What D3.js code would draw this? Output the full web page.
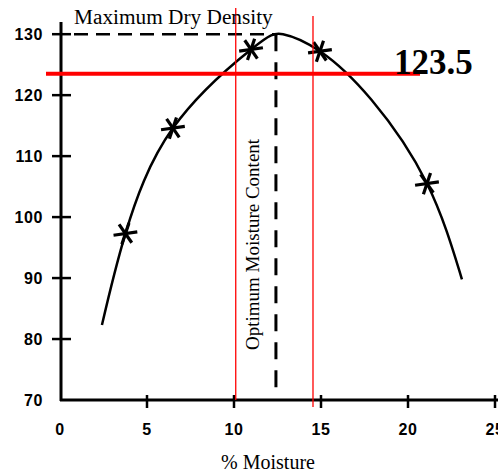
<!DOCTYPE html>
<html><head><meta charset="utf-8">
<script src="https://cdn.jsdelivr.net/npm/d3@7"></script>
<style>
html,body{margin:0;padding:0;background:#fff;overflow:hidden}
svg{display:block}
</style></head>
<body>
<script>
// Data
const xTicks = [0, 5, 10, 15, 20, 25];
const yTicks = [70, 80, 90, 100, 110, 120, 130];
const starX = [3.76, 6.49, 10.98, 14.94, 21.09];
const starY = [97.3, 114.6, 127.5, 127.2, 105.5];
const curveX = [2.41, 3.76, 6.49, 10.98, 12.82, 14.94, 17.91, 21.09, 23.1];
const curveY = [82.3, 97.3, 114.6, 127.5, 130.0, 127.2, 119.2, 105.5, 89.8];
const maxDryDensity = 130;
const optimumMoisture = 12.41;
const redLevel = 123.5;
const redVerticals = [10.1, 14.54];

const W = 498, H = 472;
const svg = d3.select("body").append("svg").attr("width", W).attr("height", H);

const x = d3.scaleLinear().domain([0, 25]).range([60, 495]);
const y = d3.scaleLinear().domain([70, 132]).range([400, 22]);

// Axes lines
svg.append("line").attr("x1", x(0) + 1).attr("x2", x(0) + 1).attr("y1", y(132)).attr("y2", y(70) + 1)
  .attr("stroke", "#000").attr("stroke-width", 3);
svg.append("line").attr("x1", x(0)).attr("x2", W).attr("y1", y(70)).attr("y2", y(70))
  .attr("stroke", "#000").attr("stroke-width", 3);

// Y ticks
const yg = svg.append("g");
yTicks.forEach(v => {
  if (v > 70) {
    yg.append("line").attr("x1", 52).attr("x2", 71).attr("y1", y(v)).attr("y2", y(v))
      .attr("stroke", "#000").attr("stroke-width", 2.5);
  }
  yg.append("text").attr("x", 43).attr("y", y(v)).attr("dy", "0.36em")
    .attr("text-anchor", "end")
    .attr("font-family", "Liberation Sans, Arial, sans-serif").attr("font-weight", "bold")
    .attr("font-size", 16).attr("letter-spacing", 0.6).text(v);
});

// X ticks
const xg = svg.append("g");
xTicks.forEach(v => {
  if (v > 0) {
    xg.append("line").attr("x1", x(v)).attr("x2", x(v)).attr("y1", 395).attr("y2", 408)
      .attr("stroke", "#000").attr("stroke-width", 2.5);
  }
  xg.append("text").attr("x", x(v)).attr("y", 435)
    .attr("text-anchor", "middle")
    .attr("font-family", "Liberation Sans, Arial, sans-serif").attr("font-weight", "bold")
    .attr("font-size", 16).attr("letter-spacing", 0.6).text(v);
});

// Dashed guides
svg.append("line").attr("x1", 74).attr("x2", x(optimumMoisture)).attr("y1", y(maxDryDensity)).attr("y2", y(maxDryDensity))
  .attr("stroke", "#000").attr("stroke-width", 2.5).attr("stroke-dasharray", "14,8");
svg.append("line").attr("x1", x(optimumMoisture)).attr("x2", x(optimumMoisture)).attr("y1", y(maxDryDensity)).attr("y2", 392)
  .attr("stroke", "#000").attr("stroke-width", 3).attr("stroke-dasharray", "17,11");

// Curve
const pts = curveX.map((d, i) => [d, curveY[i]]);
const line = d3.line().x(d => x(d[0])).y(d => y(d[1])).curve(d3.curveNatural);
svg.append("path").attr("d", line(pts)).attr("fill", "none").attr("stroke", "#000").attr("stroke-width", 2.5);

// Stars
starX.forEach((sx, i) => {
  const cx = x(sx), cy = y(starY[i]);
  const g = svg.append("g").attr("transform", `translate(${cx},${cy}) rotate(-8)`);
  g.append("line").attr("x1", -12).attr("x2", 12).attr("y1", 0).attr("y2", 0);
  g.append("line").attr("x1", -5).attr("x2", 5).attr("y1", -10).attr("y2", 10);
  g.append("line").attr("x1", 5).attr("x2", -5).attr("y1", -10).attr("y2", 10);
  g.selectAll("line").attr("stroke", "#000").attr("stroke-width", 3.2);
});

// Red lines
svg.append("line").attr("x1", 46).attr("x2", 420).attr("y1", y(redLevel)).attr("y2", y(redLevel))
  .attr("stroke", "#ff0000").attr("stroke-width", 4);
svg.append("line").attr("x1", x(redVerticals[0])).attr("x2", x(redVerticals[0])).attr("y1", 8).attr("y2", 400)
  .attr("stroke", "#ff0000").attr("stroke-width", 1.3);
svg.append("line").attr("x1", x(redVerticals[1])).attr("x2", x(redVerticals[1])).attr("y1", 16).attr("y2", 407)
  .attr("stroke", "#ff0000").attr("stroke-width", 1.3);

// Texts
const serif = "Liberation Serif, Times New Roman, serif";
svg.append("text").attr("x", 74).attr("y", 24).attr("font-family", serif).attr("font-size", 21.3)
  .text("Maximum Dry Density");
svg.append("text").attr("transform", `translate(259,350) rotate(-90)`).attr("font-family", serif)
  .attr("font-size", 19).text("Optimum Moisture Content");
svg.append("text").attr("x", 394).attr("y", 74).attr("font-family", serif).attr("font-weight", "bold")
  .attr("font-size", 35).text(String(redLevel));
svg.append("text").attr("x", 268).attr("y", 469).attr("text-anchor", "middle").attr("font-family", serif)
  .attr("font-size", 20).text("% Moisture");
</script>
</body></html>
